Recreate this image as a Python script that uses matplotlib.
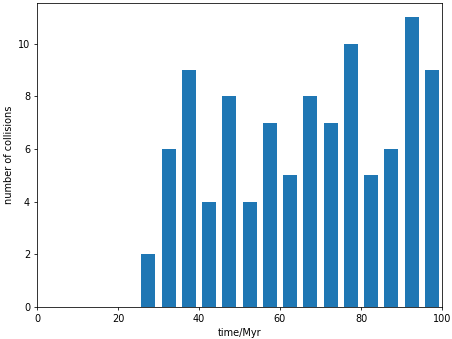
import matplotlib
matplotlib.use('agg')
import matplotlib.pyplot as plt
import numpy as np

# histogram of collision times, 5 Myr bins
bin_edges = [0, 5, 10, 15, 20, 25, 30, 35, 40, 45, 50, 55, 60, 65, 70, 75, 80, 85, 90, 95, 100]
counts = [0, 0, 0, 0, 0, 2, 6, 9, 4, 8, 4, 7, 5, 8, 7, 10, 5, 6, 11, 9]

edges = np.array(bin_edges)
centers = (edges[:-1] + edges[1:]) / 2
width = 0.7 * np.diff(edges)

fig, ax = plt.subplots(figsize=(6.4, 4.8), dpi=452 / 6.4)
ax.bar(centers, counts, width=width, color='#1f77b4')
ax.set_xlim(0, 100)
ax.set_xlabel('time/Myr')
ax.set_ylabel('number of collisions')
fig.subplots_adjust(left=37 / 452, right=442 / 452, top=1 - 3 / 339, bottom=1 - 307 / 339)
fig.savefig('out.png')
